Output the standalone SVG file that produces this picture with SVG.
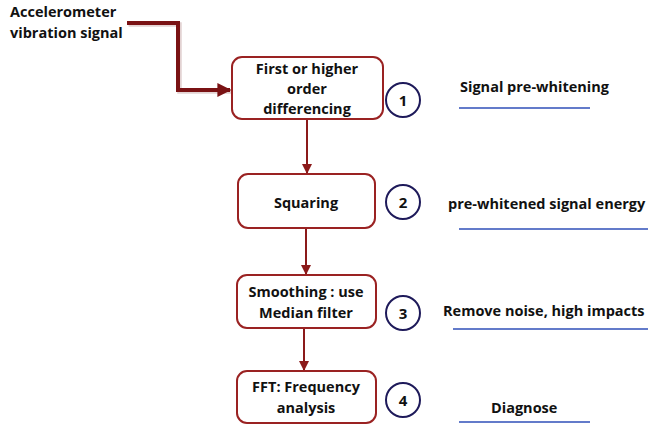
<svg xmlns="http://www.w3.org/2000/svg" width="648" height="426" viewBox="0 0 648 426">
<defs>
<style>
text{font-family:"Open Sans","Liberation Sans",sans-serif;font-weight:bold;fill:#111;}
.box{fill:#fff;stroke:#9a2222;stroke-width:2;}
.lbl{font-size:14.5px;text-anchor:middle;}
.num{font-size:15px;text-anchor:middle;}
.side{font-size:14.5px;}
.circ{fill:#fff;stroke:#1e1a5a;stroke-width:2;}
.ul{stroke:#2f4fb8;stroke-width:1.5;}
.conn{fill:none;stroke:#8b1a1a;stroke-width:2;}
</style>
<marker id="ah" viewBox="0 0 10 10" refX="9" refY="5" markerWidth="5" markerHeight="5" orient="auto" markerUnits="strokeWidth">
<path d="M0,0 L10,5 L0,10 z" fill="#8b1a1a"/>
</marker>
<marker id="ahBig" viewBox="0 0 10 10" refX="9" refY="5" markerWidth="4" markerHeight="3.5" orient="auto" markerUnits="strokeWidth">
<path d="M0,0 L10,5 L0,10 z" fill="#7a1214"/>
</marker>
</defs>
<rect width="648" height="426" fill="#fff"/>
<text class="side" x="10" y="17" font-size="15">Accelerometer</text>
<text class="side" x="10" y="38" font-size="15">vibration signal</text>
<g id="connectors">
<path d="M127,23 L178,23 L178,90 L231,90" fill="none" stroke="#b08080" stroke-width="4.5" opacity="0.35" transform="translate(1.5,1.5)"/>
<path d="M127,23 L178,23 L178,90 L230,90" fill="none" stroke="#7a1214" stroke-width="4" marker-end="url(#ahBig)"/>
<path class="conn" d="M307,120 L307,173" marker-end="url(#ah)"/>
<path class="conn" d="M306,229 L306,274" marker-end="url(#ah)"/>
<path class="conn" d="M304,329 L304,370" marker-end="url(#ah)"/>
</g>
<g id="node1">
<rect class="box" x="232" y="57" width="151" height="62" rx="10"/>
<text class="lbl" x="307" y="74">First or higher</text>
<text class="lbl" x="307" y="94">order</text>
<text class="lbl" x="307" y="114">differencing</text>
</g>
<g id="node2">
<rect class="box" x="238" y="174" width="137" height="54" rx="10"/>
<text class="lbl" x="306" y="208">Squaring</text>
</g>
<g id="node3">
<rect class="box" x="237" y="275" width="139" height="53" rx="10"/>
<text class="lbl" x="306" y="297">Smoothing : use</text>
<text class="lbl" x="306" y="318">Median filter</text>
</g>
<g id="node4">
<rect class="box" x="237" y="371" width="139" height="52" rx="10"/>
<text class="lbl" x="306" y="392">FFT: Frequency</text>
<text class="lbl" x="306" y="413">analysis</text>
</g>
<g id="step1">
<circle class="circ" cx="403" cy="100" r="17"/>
<text class="num" x="403" y="106">1</text>
</g>
<g id="step2">
<circle class="circ" cx="403" cy="202" r="17"/>
<text class="num" x="403" y="208">2</text>
</g>
<g id="step3">
<circle class="circ" cx="403" cy="313" r="17"/>
<text class="num" x="403" y="319">3</text>
</g>
<g id="step4">
<circle class="circ" cx="403" cy="400" r="17"/>
<text class="num" x="403" y="406">4</text>
</g>
<g id="note1">
<text class="side" x="460" y="92">Signal pre-whitening</text>
<line class="ul" x1="459" y1="108" x2="590" y2="108"/>
</g>
<g id="note2">
<text class="side" x="448" y="209">pre-whitened signal energy</text>
<line class="ul" x1="459" y1="229" x2="648" y2="229"/>
</g>
<g id="note3">
<text class="side" x="443" y="316">Remove noise, high impacts</text>
<line class="ul" x1="453" y1="329" x2="648" y2="329"/>
</g>
<g id="note4">
<text class="side" x="491" y="413">Diagnose</text>
<line class="ul" x1="459" y1="422" x2="590" y2="422"/>
</g>
</svg>
